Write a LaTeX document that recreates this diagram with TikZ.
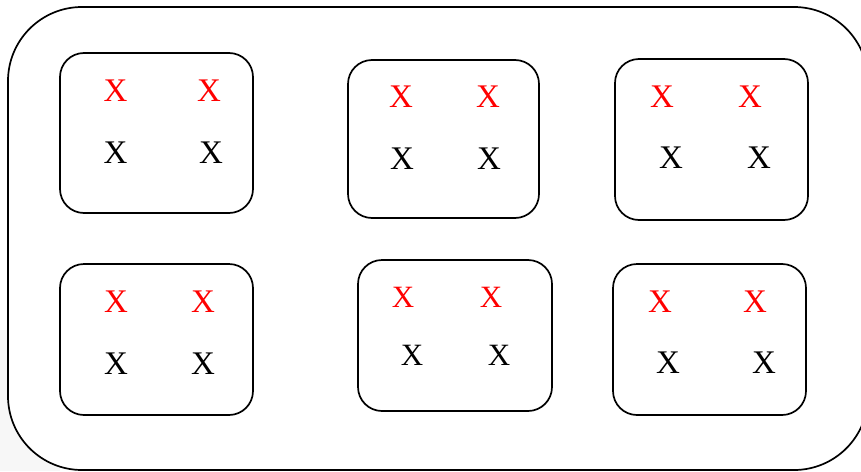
\documentclass[tikz,border=0pt]{standalone}
\usepackage{fontspec}
\setmainfont{Liberation Serif}
\begin{document}
\begin{tikzpicture}[x=1pt,y=-1pt,
  outerbox/.style={draw=black,line width=1.7pt,rounded corners=74pt},
  innerbox/.style={draw=black,line width=1.7pt,rounded corners=24pt},
  rx/.style={text=red,font=\fontsize{33}{33}\selectfont,inner sep=0pt},
  bx/.style={text=black,font=\fontsize{33}{33}\selectfont,inner sep=0pt},
  srx/.style={text=red,font=\fontsize{31}{31}\selectfont,inner sep=0pt},
  sbx/.style={text=black,font=\fontsize{31}{31}\selectfont,inner sep=0pt}]
\useasboundingbox (0,0) rectangle (861,471);
\begin{scope}
\clip (0,0) rectangle (861,471);
\fill[black!3] (0,330) rectangle (60,471);
\draw[outerbox,fill=white] (8,7) rectangle (868,470);
\end{scope}
% boxes
\draw[innerbox] (60,53) rectangle (253,213);
\draw[innerbox] (348,60) rectangle (539,218);
\draw[innerbox] (615,59) rectangle (808,220);
\draw[innerbox] (60,264) rectangle (253,415);
\draw[innerbox] (358,260) rectangle (552,411);
\draw[innerbox] (613,264) rectangle (806,415);
% box 1
\node[rx] (a1) at (115.5,91) {X};
\node[rx] (a2) at (209,91) {X};
\node[bx] (a3) at (115.5,152.5) {X};
\node[bx] (a4) at (211,152.5) {X};
% box 2
\node[rx] (b1) at (401,97) {X};
\node[rx] (b2) at (488,97) {X};
\node[bx] (b3) at (402,159) {X};
\node[bx] (b4) at (489,159) {X};
% box 3
\node[rx] (c1) at (662,97) {X};
\node[rx] (c2) at (750,97) {X};
\node[bx] (c3) at (671,158) {X};
\node[bx] (c4) at (759,158) {X};
% box 4
\node[rx] (d1) at (116,302) {X};
\node[rx] (d2) at (203,302) {X};
\node[bx] (d3) at (116,364) {X};
\node[bx] (d4) at (203,364) {X};
% box 5
\node[srx] (e1) at (403,297) {X};
\node[srx] (e2) at (491,297) {X};
\node[sbx] (e3) at (412,355) {X};
\node[sbx] (e4) at (499,355) {X};
% box 6
\node[rx] (f1) at (660,302) {X};
\node[rx] (f2) at (755,302) {X};
\node[bx] (f3) at (668,363) {X};
\node[bx] (f4) at (764,363) {X};
\end{tikzpicture}
\end{document}
